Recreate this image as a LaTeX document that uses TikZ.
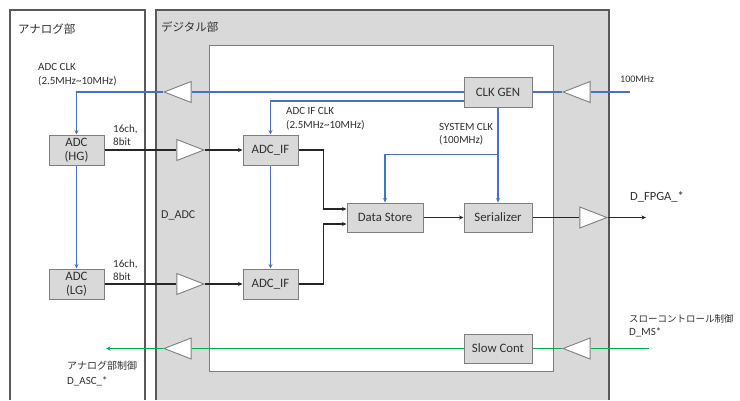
\documentclass[tikz,border=0pt]{standalone}
\usepackage{fontspec}
\setmainfont{Carlito}
\newfontfamily\jp{Noto Sans CJK JP}
\usetikzlibrary{shapes.geometric,arrows.meta}
\definecolor{lblue}{HTML}{4472C4}
\definecolor{lgreen}{HTML}{00B050}
\definecolor{boxfill}{HTML}{D9D9D9}
\definecolor{edge}{HTML}{7F7F7F}
\definecolor{frame}{HTML}{595959}
\definecolor{txt}{HTML}{303030}
\begin{document}
\begin{tikzpicture}[x=1pt,y=-1pt,
 blk/.style={draw=edge,fill=boxfill,line width=1pt,minimum width=#1,minimum height=30pt,inner sep=0pt,font=\fontsize{12.8}{14}\selectfont,text=txt,align=center},
 buf/.style={isosceles triangle,isosceles triangle stretches,draw=edge,fill=white,line width=0.9pt,minimum width=21pt,minimum height=27pt,inner sep=0pt,shape border rotate=#1},
 bl/.style={lblue,line width=1.3pt},
 bk/.style={black!85,line width=1.3pt},
 gr/.style={lgreen,line width=1.3pt},
 tip/.style={-{Stealth[length=4.5pt,width=4pt]}},
 lbl/.style={font=\fontsize{11}{14}\selectfont,text=txt,align=left,inner sep=0pt,anchor=west},
 ttl/.style={font=\jp\fontsize{11.5}{14}\selectfont,text=txt,inner sep=0pt,anchor=west}
]
\useasboundingbox (0,0) rectangle (740,400);
% frames
\fill[white] (10,10) rectangle (145,400);
\draw[frame,line width=1.1pt] (10,400) -- (10,10) -- (145,10) -- (145,400);
\fill[boxfill] (156,10) rectangle (609,400);
\draw[frame,line width=1.1pt] (156,400) -- (156,10) -- (609,10) -- (609,400);
\draw[edge,fill=white,line width=1pt] (209,45) rectangle (553,371);
\node[ttl] (tana) at (18,29) {アナログ部};
\node[ttl] (tdig) at (161,27) {デジタル部};
% blocks
\node[blk=68pt] (clkgen) at (498,92) {CLK GEN};
\node[blk=55pt] (adchg) at (76.5,150) {ADC\\(HG)};
\node[blk=55pt] (adclg) at (76.5,284) {ADC\\(LG)};
\node[blk=55pt] (adcif1) at (270.5,150) {ADC\_IF};
\node[blk=55pt] (adcif2) at (270.5,284) {ADC\_IF};
\node[blk=76pt,minimum height=29pt] (ds) at (385,217.5) {Data Store};
\node[blk=68pt,minimum height=29pt] (ser) at (498,217.5) {Serializer};
\node[blk=68pt,minimum height=29pt] (slow) at (498,348.5) {Slow Cont};
% buffers
\node[buf=180] (b1) at (184,92) {};
\node[buf=0] (b2) at (184,150) {};
\node[buf=0] (b3) at (184,284) {};
\node[buf=180] (b4) at (184,348.5) {};
\node[buf=0] (b5) at (587,217.5) {};
\node[buf=180] (b6) at (583,92) {};
\node[buf=180] (b7) at (583,348.5) {};
% free ends
\coordinate (in100) at (630,92);
\coordinate (fpga) at (646,217.5);
\coordinate (ms) at (649,348.5);
\coordinate (asc) at (106,348.5);
% clocks
\draw[bl] (clkgen.west) -- (b1.lower side);
\draw[bl,tip] (b1.apex) -| (adchg.north);
\draw[bl,tip] (adchg.south) -- (adclg.north);
\draw[bl,tip] ([yshift=-9pt]clkgen.west) -| (adcif1.north);
\draw[bl,tip] (adcif1.south) -- (adcif2.north);
\draw[bl,tip] (clkgen.south) -- (ser.north);
\path (clkgen.south) ++(0,47) coordinate (br);
\draw[bl,tip] (br) -| (ds.north);
\draw[bl] (in100) -- (b6.lower side);
\draw[bl] (b6.apex) -- (clkgen.east);
% data
\draw[bk] (adchg.east) -- (b2.lower side);
\draw[bk,tip] (b2.apex) -- (adcif1.west);
\draw[bk] (adclg.east) -- (b3.lower side);
\draw[bk,tip] (b3.apex) -- (adcif2.west);
\draw[bk,tip] (adcif1.east) -- ++(25,0) |- ([yshift=8.5pt]ds.west);
\draw[bk,tip] (adcif2.east) -- ++(25,0) |- ([yshift=-6.5pt]ds.west);
\draw[bk,tip] (ds.east) -- (ser.west);
\draw[bk] (ser.east) -- (b5.lower side);
\draw[bk,tip] (b5.apex) -- (fpga);
% slow control
\draw[gr] (ms) -- (b7.lower side);
\draw[gr] (b7.apex) -- (slow.east);
\draw[gr] (slow.west) -- (b4.lower side);
\draw[gr,tip] (b4.apex) -- (asc);
% labels
\node[lbl] (l1) at (38,75) {ADC CLK\\(2.5MHz\textasciitilde10MHz)};
\node[lbl,font=\fontsize{11}{13}\selectfont] (l2) at (113,135.5) {16ch,\\8bit};
\node[lbl,font=\fontsize{11}{13}\selectfont] (l3) at (113,270.5) {16ch,\\8bit};
\node[lbl,font=\fontsize{12}{14}\selectfont] (l4) at (161,215) {D\_ADC};
\node[lbl] (l5) at (286,118.5) {ADC IF CLK\\(2.5MHz\textasciitilde10MHz)};
\node[lbl,font=\fontsize{11}{12.5}\selectfont] (l6) at (439,134) {SYSTEM CLK\\(100MHz)};
\node[lbl,font=\fontsize{10}{12}\selectfont] (l7) at (620,79) {100MHz};
\node[lbl,font=\fontsize{12.5}{14}\selectfont] (l8) at (630,197) {D\_FPGA\_*};
\node[lbl,font=\fontsize{11}{13}\selectfont] (l9) at (629,325.5) {{\jp\fontsize{9.5}{13}\selectfont スローコントロール制御}\\D\_MS*};
\node[lbl,font=\fontsize{11}{15}\selectfont] (l10) at (67,374) {{\jp\fontsize{10}{15}\selectfont アナログ部制御}\\D\_ASC\_*};
\end{tikzpicture}
\end{document}
